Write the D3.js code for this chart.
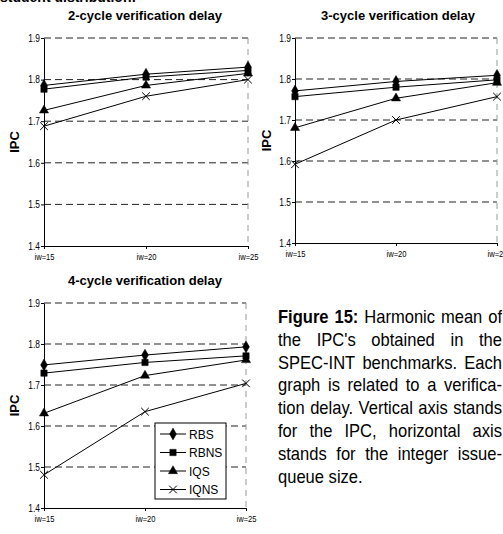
<!DOCTYPE html>
<html>
<head>
<meta charset="utf-8">
<script src="https://cdn.jsdelivr.net/npm/d3@7"></script>
<style>
  html, body { margin: 0; padding: 0; background: #fff; }
  svg { display: block; }
  .narrow { font-family: "Liberation Sans Narrow", "Arial Narrow", "Liberation Sans", sans-serif; }
</style>
</head>
<body>
<div id="chart"></div>
<script>
// categories and series
const xLabels = ["iw=15", "iw=20", "iw=25"];
const seriesNames = ["RBS", "RBNS", "IQS", "IQNS"];
const yTicks = [1.4, 1.5, 1.6, 1.7, 1.8, 1.9];

// 2-cycle verification delay
const rbs2 = [1.786, 1.813, 1.830];
const rbns2 = [1.777, 1.806, 1.822];
const iqs2 = [1.726, 1.786, 1.815];
const iqns2 = [1.688, 1.760, 1.800];

// 3-cycle verification delay
const rbs3 = [1.771, 1.794, 1.809];
const rbns3 = [1.757, 1.780, 1.798];
const iqs3 = [1.681, 1.753, 1.791];
const iqns3 = [1.592, 1.700, 1.757];

// 4-cycle verification delay
const rbs4 = [1.749, 1.773, 1.793];
const rbns4 = [1.729, 1.755, 1.771];
const iqs4 = [1.631, 1.723, 1.761];
const iqns4 = [1.481, 1.635, 1.704];

const captionLines = [
  "Figure 15: Harmonic mean of",
  "the IPC's obtained in the",
  "SPEC-INT benchmarks. Each",
  "graph is related to a verifica-",
  "tion delay. Vertical axis stands",
  "for the IPC, horizontal axis",
  "stands for the integer issue-",
  "queue size."
];

const W = 503, H = 534;
const squeeze = 0.8; // horizontal squeeze to mimic a condensed face

const svg = d3.select("#chart").append("svg")
  .attr("width", W)
  .attr("height", H);

// heading line cut off at the very top of the page
svg.append("text")
  .attr("x", 0)
  .attr("y", 2)
  .attr("font-family", "Liberation Sans, Arial, sans-serif")
  .attr("font-weight", "bold")
  .attr("font-size", 14)
  .text("student distribution:");

const markerFor = {
  RBS: { type: d3.symbolDiamond, size: 40, fill: true },
  RBNS: { type: d3.symbolSquare, size: 40, fill: true },
  IQS: { type: d3.symbolTriangle, size: 36, fill: true },
  IQNS: { type: d3.symbolX, size: 40, fill: false }
};

function drawMarker(sel, name) {
  const m = markerFor[name];
  return sel.append("path")
    .attr("d", d3.symbol().type(m.type).size(m.size)())
    .attr("fill", m.fill ? "#000" : "none")
    .attr("stroke", "#000")
    .attr("stroke-width", m.fill ? 0.5 : 1);
}

function drawPanel(p) {
  const x = d3.scalePoint().domain(xLabels).range([p.x0, p.x1]);
  const y = d3.scaleLinear().domain([1.4, 1.9]).range([p.y0, p.y1]);
  const g = svg.append("g");

  // title
  g.append("text")
    .attr("x", p.titleX)
    .attr("y", p.titleY)
    .attr("text-anchor", "middle")
    .attr("font-family", "Liberation Sans, Arial, sans-serif")
    .attr("font-weight", "bold")
    .attr("font-size", 13)
    .text(p.title);

  // y title
  g.append("text")
    .attr("transform", `translate(${p.ipcX},${(p.y0 + p.y1) / 2}) rotate(-90)`)
    .attr("text-anchor", "middle")
    .attr("font-family", "Liberation Sans, Arial, sans-serif")
    .attr("font-weight", "bold")
    .attr("font-size", 13)
    .text("IPC");

  // dashed grid
  g.selectAll(".grid")
    .data(yTicks.slice(1))
    .enter()
    .append("line")
    .attr("x1", p.x0)
    .attr("x2", p.x1)
    .attr("y1", d => y(d))
    .attr("y2", d => y(d))
    .attr("stroke", "#222")
    .attr("stroke-dasharray", "7,4");

  g.append("line")
    .attr("x1", p.x1)
    .attr("x2", p.x1)
    .attr("y1", y(1.9))
    .attr("y2", y(1.4))
    .attr("stroke", "#999")
    .attr("stroke-dasharray", "6,5");

  // axes
  const yAxis = g.append("g")
    .attr("class", "narrow")
    .attr("transform", `translate(${p.x0},0)`)
    .call(d3.axisLeft(y).tickValues(yTicks).tickFormat(d3.format(".1f"))
      .tickSize(3).tickSizeOuter(0).tickPadding(2));

  const xAxis = g.append("g")
    .attr("class", "narrow")
    .attr("transform", `translate(0,${p.y0})`)
    .call(d3.axisBottom(x).tickSize(3).tickSizeOuter(0).tickPadding(4));

  [yAxis, xAxis].forEach(a => {
    a.attr("font-family", null).attr("font-size", null);
    a.select(".domain").attr("stroke", "#000");
    a.selectAll(".tick line").attr("stroke", "#000");
    a.selectAll("text")
      .attr("fill", "#000")
      .attr("transform", `scale(${squeeze},1)`);
  });
  yAxis.selectAll("text").attr("font-size", 10.5);
  xAxis.selectAll("text").attr("font-size", 9.5);

  // series
  const line = d3.line()
    .x((d, i) => x(xLabels[i]))
    .y(d => y(d));

  seriesNames.forEach((name, k) => {
    const values = p.data[k];
    g.append("path")
      .datum(values)
      .attr("fill", "none")
      .attr("stroke", "#000")
      .attr("stroke-width", 1)
      .attr("d", line);

    values.forEach((v, i) => {
      const mg = g.append("g")
        .attr("transform", `translate(${x(xLabels[i])},${y(v)})`);
      drawMarker(mg, name);
    });
  });

  return { x, y, g };
}

drawPanel({
  title: "2-cycle verification delay", titleX: 145, titleY: 20, ipcX: 19,
  x0: 44, x1: 248, y0: 246, y1: 38,
  data: [rbs2, rbns2, iqs2, iqns2]
});

drawPanel({
  title: "3-cycle verification delay", titleX: 398, titleY: 20, ipcX: 271,
  x0: 295, x1: 497, y0: 243, y1: 38,
  data: [rbs3, rbns3, iqs3, iqns3]
});

drawPanel({
  title: "4-cycle verification delay", titleX: 145, titleY: 285, ipcX: 19,
  x0: 44, x1: 246, y0: 508, y1: 303,
  data: [rbs4, rbns4, iqs4, iqns4]
});

// legend
const legend = svg.append("g")
  .attr("transform", "translate(155,423)");

legend.append("rect")
  .attr("width", 71)
  .attr("height", 76)
  .attr("fill", "#fff")
  .attr("stroke", "#000");

legend.selectAll(".legend-item")
  .data(seriesNames)
  .enter()
  .append("g")
  .attr("class", "legend-item")
  .attr("transform", (d, i) => `translate(0,${11 + i * 18.5})`)
  .each(function (d) {
    const item = d3.select(this);
    item.append("line")
      .attr("x1", 5)
      .attr("x2", 31)
      .attr("stroke", "#000");
    const mg = item.append("g").attr("transform", "translate(18,0)");
    drawMarker(mg, d);
    item.append("text")
      .attr("x", 34)
      .attr("y", 4.5)
      .attr("font-family", "Liberation Sans, Arial, sans-serif")
      .attr("font-size", 12)
      .text(d);
  });

// caption, justified between two edges
const capLeft = 278, capRight = 502, capTop = 323, capStep = 22.8;
const capSqueeze = 0.92;
const caption = svg.append("g")
  .attr("class", "narrow")
  .attr("font-size", 18);

captionLines.forEach((ln, li) => {
  const words = ln.split(" ");
  const row = caption.append("g")
    .attr("transform", `translate(${capLeft},${capTop + li * capStep}) scale(${capSqueeze},1)`);
  const nodes = words.map((w, wi) => row.append("text")
    .attr("font-weight", li === 0 && wi < 2 ? "bold" : null)
    .text(w));
  const widths = nodes.map(n => n.node().getComputedTextLength());
  const total = d3.sum(widths);
  const span = (capRight - capLeft) / capSqueeze;
  const last = li === captionLines.length - 1;
  const gap = last ? 5 : (span - total) / (words.length - 1);
  let cx = 0;
  nodes.forEach((n, i) => {
    n.attr("x", cx);
    cx += widths[i] + gap;
  });
});
</script>
</body>
</html>
